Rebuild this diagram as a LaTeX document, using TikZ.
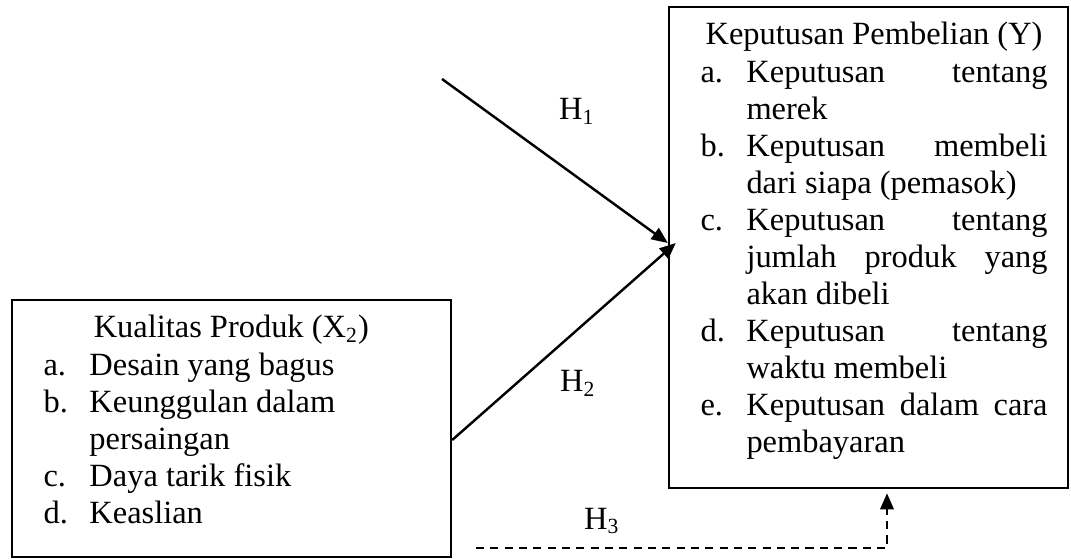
\documentclass[tikz,border=0pt]{standalone}
\usepackage{fontspec}
\setmainfont{Liberation Serif}
\usetikzlibrary{arrows.meta,calc}
\begin{document}
\begin{tikzpicture}[x=0.37pt,y=-0.37pt,
  boxframe/.style={draw,line width=0.9pt,rectangle,inner sep=0pt},
  txt/.style={inner sep=0pt,anchor=base west,font=\fontsize{12}{13.7}\selectfont},
  hlabel/.style={inner sep=0pt,font=\fontsize{12}{13.7}\selectfont},
  conn/.style={line width=0.9pt,-{Triangle[length=6pt,width=5pt]}},
  dashconn/.style={conn,dash pattern=on 3pt off 2.3pt}]
\useasboundingbox (0,0) rectangle (1071,559);
% boxes
\node[boxframe,minimum width=399*0.37pt,minimum height=481*0.37pt] (Y) at (868.5,247.5) {};
\node[boxframe,minimum width=439*0.37pt,minimum height=257*0.37pt] (X) at (231.5,428.5) {};
% box texts
\node[txt] (Ytext) at (700,45) {\renewcommand{\arraystretch}{1}%
\begin{tabular}[t]{@{}p{17pt}@{}p{111.4pt}@{}}
\multicolumn{2}{@{}c@{}}{Keputusan Pembelian (Y)}\\
a. & Keputusan\hfill tentang\\
   & merek\\
b. & Keputusan\hfill membeli\\
   & dari siapa (pemasok)\\
c. & Keputusan\hfill tentang\\
   & jumlah\hfill produk\hfill yang\\
   & akan dibeli\\
d. & Keputusan\hfill tentang\\
   & waktu membeli\\
e. & Keputusan\hfill dalam\hfill cara\\
   & pembayaran
\end{tabular}};
\node[txt] (Xtext) at (43,338) {\renewcommand{\arraystretch}{1}%
\begin{tabular}[t]{@{}p{17pt}@{}p{122pt}@{}}
\multicolumn{2}{@{}c@{}}{Kualitas Produk (X\textsubscript{2})}\\
a. & Desain yang bagus\\
b. & Keunggulan dalam\\
   & persaingan\\
c. & Daya tarik fisik\\
d. & Keaslian
\end{tabular}};
% connectors
\coordinate (h1s) at (442,79);
\draw[conn] (h1s) -- ($(Y.west)+(0,-4.5)$);
\draw[conn] ($(X.east)+(0,11.5)$) -- ($(Y.west)+(8,-4.5)$);
\coordinate (h3s) at (476,548);
\coordinate (h3c) at (887,548);
\draw[dashconn,shorten >=1.5pt] (h3s) -- (h3c) -- (h3c |- Y.south);
% labels
\node[hlabel] (H1) at (577,111) {H\textsubscript{1}};
\node[hlabel] (H2) at (578,383) {H\textsubscript{2}};
\node[hlabel] (H3) at (602,521) {H\textsubscript{3}};
\end{tikzpicture}
\end{document}
